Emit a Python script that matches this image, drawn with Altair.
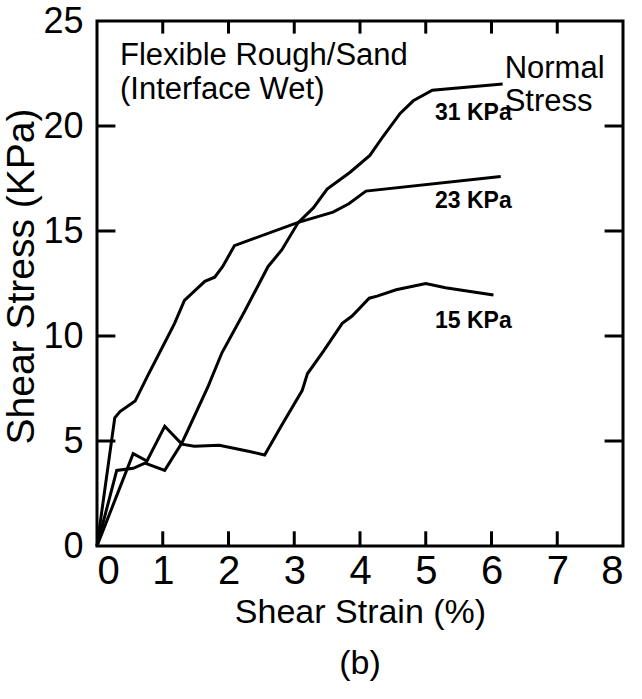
import altair as alt
import pandas as pd

# ---- data ----
strain_15 = [0, 0.55, 0.76, 1.03, 1.29, 1.48, 1.86, 2.32, 2.55, 2.8, 3.12, 3.2, 3.45, 3.73, 3.88, 4.14, 4.26, 4.55, 5.0, 5.3, 6.03]
stress_15 = [0, 4.4, 4.05, 5.7, 4.85, 4.75, 4.8, 4.5, 4.33, 5.7, 7.4, 8.2, 9.3, 10.6, 10.95, 11.8, 11.9, 12.2, 12.5, 12.3, 11.95]

strain_23 = [0, 0.27, 0.35, 0.58, 0.77, 1.0, 1.18, 1.33, 1.64, 1.79, 1.91, 2.09, 2.35, 3.05, 3.59, 3.83, 4.09, 6.14]
stress_23 = [0, 6.1, 6.4, 6.9, 8.1, 9.5, 10.6, 11.7, 12.6, 12.8, 13.3, 14.3, 14.6, 15.4, 15.9, 16.3, 16.9, 17.6]

strain_31 = [0, 0.3, 0.55, 0.73, 1.03, 1.29, 1.38, 1.69, 1.9, 2.25, 2.6, 2.81, 3.06, 3.29, 3.5, 3.85, 4.15, 4.35, 4.61, 4.81, 5.1, 6.17]
stress_31 = [0, 3.6, 3.7, 3.95, 3.6, 4.9, 5.5, 7.6, 9.2, 11.2, 13.3, 14.1, 15.4, 16.1, 17.0, 17.8, 18.6, 19.5, 20.6, 21.2, 21.7, 22.0]

x_tick_values = [0, 1, 2, 3, 4, 5, 6, 7, 8]
y_tick_values = [0, 5, 10, 15, 20, 25]
inner_x_ticks = [1, 2, 3, 4, 5, 6, 7]
inner_y_ticks = [5, 10, 15, 20]

# annotation texts (data coordinates)
note_text = ["Flexible Rough/Sand", "(Interface Wet)", "Normal", "Stress"]
note_x = [0.35, 0.35, 6.2, 6.2]
note_y = [22.9, 21.3, 22.3, 20.7]

series_text = ["31 KPa", "23 KPa", "15 KPa"]
series_x = [5.14, 5.14, 5.14]
series_y = [20.3, 16.1, 10.4]

# ---- build tables ----
rows = []
for name, xs, ys in [("15 KPa", strain_15, stress_15),
                     ("23 KPa", strain_23, stress_23),
                     ("31 KPa", strain_31, stress_31)]:
    for i, (x, y) in enumerate(zip(xs, ys)):
        rows.append({"series": name, "strain": x, "stress": y, "idx": i})
df = pd.DataFrame(rows)

notes = pd.DataFrame({"t": note_text, "x": note_x, "y": note_y})
snotes = pd.DataFrame({"t": series_text, "x": series_x, "y": series_y})

X_MIN, X_MAX, Y_MIN, Y_MAX = 0, 8, 0, 25
TX = 0.70   # inward tick length on x-ticks, in stress units
TY = 0.28   # inward tick length on y-ticks, in strain units
seg = []
for v in inner_x_ticks:
    seg.append({"x": v, "x2": v, "y": Y_MIN, "y2": Y_MIN + TX})
    seg.append({"x": v, "x2": v, "y": Y_MAX, "y2": Y_MAX - 0.6})
for v in inner_y_ticks:
    seg.append({"x": X_MIN, "x2": X_MIN + TY, "y": v, "y2": v})
    seg.append({"x": X_MAX, "x2": X_MAX - TY, "y": v, "y2": v})
segs = pd.DataFrame(seg)

W, H = 526, 525
FONT = "Liberation Sans"
xscale = alt.Scale(domain=[X_MIN, X_MAX], nice=False, zero=False)
yscale = alt.Scale(domain=[Y_MIN, Y_MAX], nice=False, zero=False)

lines = alt.Chart(df).mark_line(color="black", strokeWidth=3).encode(
    x=alt.X("strain:Q", scale=xscale,
            axis=alt.Axis(values=x_tick_values, title="Shear Strain (%)", format="d",
                          labelFontSize=40, labelPadding=5, titleFontSize=34,
                          titlePadding=4, titleFontWeight="normal")),
    y=alt.Y("stress:Q", scale=yscale,
            axis=alt.Axis(values=y_tick_values, title="Shear Stress (KPa)", format="d",
                          labelFontSize=36, labelPadding=14, titleFontSize=39,
                          titleX=-76, titleY=255, titleAlign="center",
                          titleBaseline="middle", titleAngle=270,
                          titleFontWeight="normal")),
    detail="series:N",
    order="idx:Q",
)

ticks = alt.Chart(segs).mark_rule(color="black", strokeWidth=3).encode(
    x=alt.X("x:Q", scale=xscale), x2="x2:Q",
    y=alt.Y("y:Q", scale=yscale), y2="y2:Q",
)

note_layer = alt.Chart(notes).mark_text(
    align="left", baseline="alphabetic", fontSize=31, font=FONT, color="black"
).encode(x=alt.X("x:Q", scale=xscale), y=alt.Y("y:Q", scale=yscale), text="t:N")

series_layer = alt.Chart(snotes).mark_text(
    align="left", baseline="alphabetic", fontSize=23, font=FONT, fontWeight="bold", color="black"
).encode(x=alt.X("x:Q", scale=xscale), y=alt.Y("y:Q", scale=yscale), text="t:N")

chart = alt.layer(
    lines, ticks, note_layer, series_layer
).properties(
    width=W, height=H,
    title=alt.TitleParams("(b)", orient="bottom", fontSize=34, font=FONT,
                          fontWeight="normal", offset=18, color="black"),
    autosize=alt.AutoSizeParams(type="none"),
    padding={"left": 97, "top": 21, "right": 19, "bottom": 153},
    background="white",
).configure_view(
    stroke="black", strokeWidth=3
).configure_axis(
    domain=False, grid=False, ticks=False, tickSize=0,
    labelFont=FONT, titleFont=FONT, labelColor="black", titleColor="black",
)

chart.save("out.html", embed_options={"renderer": "svg", "actions": False})
